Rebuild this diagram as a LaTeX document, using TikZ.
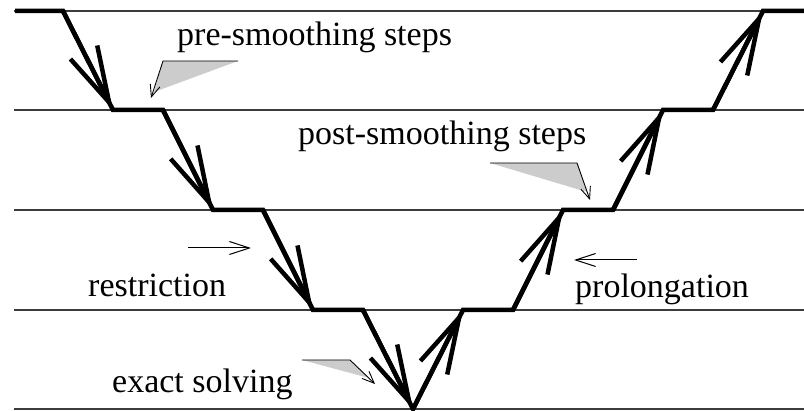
\documentclass[tikz,border=0pt]{standalone}
\usepackage{fontspec}
\setmainfont{Liberation Serif}
\usepackage{tikz}
\usetikzlibrary{arrows.meta}
\definecolor{levelgray}{RGB}{60,60,60}
\definecolor{calloutfill}{RGB}{204,204,204}
\tikzset{
  % Grid level line
  level/.style={
    draw=levelgray, line width=1.3pt
  },
  % Thick V-cycle path
  vpath/.style={
    line width=4.5pt, line join=miter
  },
  % Open barb on a V-cycle leg
  varr/.style={
    vpath, -{Straight Barb[length=56pt, width=30pt]}
  },
  % Thin direction arrow
  thinarr/.style={
    line width=1pt, -{Straight Barb[length=20pt, width=13pt]}
  },
  % Gray callout wedge
  callout/.style={
    fill=calloutfill
  },
  % Callout pointer line
  calloutline/.style={
    line width=0.9pt, -{Straight Barb[length=12pt, width=10pt]}
  },
  % Label text
  lbl/.style={
    font=\fontsize{34}{40}\selectfont, inner sep=0pt, anchor=base west
  },
}

\begin{document}
\begin{tikzpicture}[x=1pt, y=-1pt]
  \useasboundingbox (0,0) rectangle (804,411);

  % levels
  \foreach \y in {11,110,210,310,409}
    \draw[level] (14,\y) -- (804,\y);

  % V-cycle corners
  \coordinate (a0)  at (15,11);
  \coordinate (a1)  at (63,11);
  \coordinate (a2)  at (113,110);
  \coordinate (a3)  at (163,110);
  \coordinate (a4)  at (213,210);
  \coordinate (a5)  at (263,210);
  \coordinate (a6)  at (313,310);
  \coordinate (a7)  at (363,310);
  \coordinate (a8)  at (413,409);
  \coordinate (a9)  at (463,310);
  \coordinate (a10) at (513,310);
  \coordinate (a11) at (563,210);
  \coordinate (a12) at (613,210);
  \coordinate (a13) at (663,110);
  \coordinate (a14) at (713,110);
  \coordinate (a15) at (763,11);
  \coordinate (a16) at (804,11);

  \draw[vpath] (a0) -- (a1) -- (a2) -- (a3) -- (a4) -- (a5) -- (a6) -- (a7) -- (a8)
    -- (a9) -- (a10) -- (a11) -- (a12) -- (a13) -- (a14) -- (a15) -- (a16);

  % barbs, down then up
  \draw[varr] (a1) -- (a2);
  \draw[varr] (a3) -- (a4);
  \draw[varr] (a5) -- (a6);
  \draw[varr] (a7) -- (a8);
  \draw[varr] (a8) -- (a9);
  \draw[varr] (a10) -- (a11);
  \draw[varr] (a12) -- (a13);
  \draw[varr] (a14) -- (a15);

  % callouts
  \coordinate (pre1) at (238,61);
  \coordinate (pre2) at (163,61);
  \coordinate (pre3) at (151,98);
  \fill[callout] (pre1) -- (pre2) -- (154,92) -- cycle;
  \draw[calloutline] (pre1) -- (pre2) -- (pre3);

  \coordinate (post1) at (490,163);
  \coordinate (post2) at (577,163);
  \coordinate (post3) at (590,200);
  \fill[callout] (post1) -- (post2) -- (587,192) -- cycle;
  \draw[calloutline] (post1) -- (post2) -- (post3);

  \coordinate (ex1) at (302,360);
  \coordinate (ex2) at (350,360);
  \coordinate (ex3) at (375,384);
  \fill[callout] (ex1) -- (ex2) -- (369,378) -- cycle;
  \draw[calloutline] (ex1) -- (ex2) -- (ex3);

  % restriction / prolongation arrows
  \coordinate (rs1) at (188,248);
  \coordinate (rs2) at (251,248);
  \draw[thinarr] (rs1) -- (rs2);
  \coordinate (pr1) at (637,260);
  \coordinate (pr2) at (574,260);
  \draw[thinarr] (pr1) -- (pr2);

  % labels
  \node[lbl] (lpre)  at (177,46)  {pre-smoothing steps};
  \node[lbl] (lpost) at (298,145) {post-smoothing steps};
  \node[lbl] (lres)  at (88,297)  {restriction};
  \node[lbl] (lpro)  at (575,298) {prolongation};
  \node[lbl] (lex)   at (112,393) {exact solving};
\end{tikzpicture}
\end{document}
